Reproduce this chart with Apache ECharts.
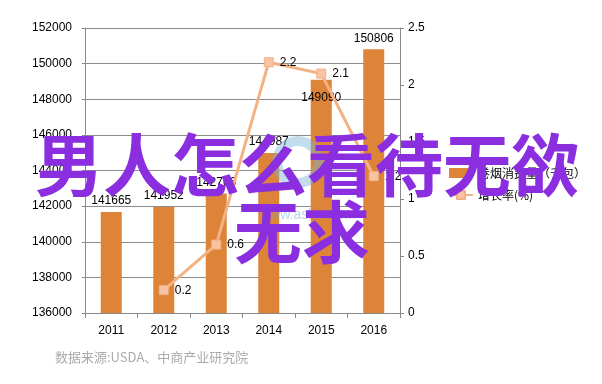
<!DOCTYPE html>
<html><head><meta charset="utf-8">
<script src="https://cdn.jsdelivr.net/npm/echarts@6/dist/echarts.min.js"></script>
<style>html,body{margin:0;padding:0;background:#fff}#c{width:602px;height:384px}</style>
</head><body><div id="c"></div>
<script>
const years = ['2011','2012','2013','2014','2015','2016'];
const consumption = [141665, 141952, 142706, 144987, 149090, 150806];
const growth = [null, 0.2, 0.6, 2.2, 2.1, 1.2];
const barName = '卷烟消费量（千包）';
const lineName = '增长率(%)';
const overlayLine1 = '男人怎么看待无欲';
const overlayLine2 = '无求';
const sourceText = '数据来源:USDA、中商产业研究院';

const chart = echarts.init(document.getElementById('c'));
const numFont = 'Liberation Sans';
const barData = consumption.map((v, i) => i === 4
  ? {value: v, label: {position: 'insideTop', distance: 12}}
  : v);
chart.setOption({
  animation: false,
  backgroundColor: '#fff',
  grid: {left: 85, right: 202, top: 28, bottom: 71},
  legend: {
    orient: 'vertical', left: 443, top: 162, itemWidth: 24, itemHeight: 10, itemGap: 10,
    textStyle: {fontFamily: 'Noto Sans CJK SC', fontSize: 12, color: '#000'},
    data: [{name: barName, icon: 'rect'}, {name: lineName}]
  },
  xAxis: {
    type: 'category', data: years,
    axisLine: {lineStyle: {color: '#888'}},
    axisTick: {show: true, alignWithLabel: false, length: 5, lineStyle: {color: '#888'}},
    axisLabel: {fontFamily: numFont, fontSize: 12, color: '#000', margin: 12}
  },
  yAxis: [{
    type: 'value', min: 136000, max: 152000, interval: 2000,
    axisLine: {show: true, lineStyle: {color: '#888'}},
    axisTick: {show: true, length: 3, lineStyle: {color: '#888'}},
    splitLine: {lineStyle: {color: '#8c8c8c'}},
    axisLabel: {fontFamily: numFont, fontSize: 12, color: '#000', margin: 13, formatter: v => String(v)}
  }, {
    type: 'value', min: 0, max: 2.5, interval: 0.5, position: 'right',
    axisLine: {show: true, lineStyle: {color: '#888'}},
    axisTick: {show: true, length: 4, lineStyle: {color: '#888'}},
    splitLine: {show: false},
    axisLabel: {fontFamily: numFont, fontSize: 12, color: '#000', margin: 8, formatter: v => String(v)}
  }],
  series: [{
    name: barName, type: 'bar', data: barData, barWidth: 21,
    itemStyle: {color: '#dd8438'},
    label: {show: true, position: 'top', distance: 5, fontFamily: numFont, fontSize: 12, color: '#000', formatter: p => String(p.value)}
  }, {
    name: lineName, type: 'line', yAxisIndex: 1, data: growth,
    symbol: 'rect', symbolSize: 9, connectNulls: false,
    lineStyle: {color: '#f4b183', width: 3},
    itemStyle: {color: '#f8c3a2', borderColor: '#f4b183', borderWidth: 1},
    label: {show: true, position: 'right', distance: 6, fontFamily: numFont, fontSize: 12, color: '#000'}
  }],
  graphic: [
    {type: 'ring', shape: {cx: 298, cy: 162, r: 26, r0: 16}, style: {fill: 'rgba(120,180,215,0.45)'}, z: 50},
    {type: 'text', left: 260, top: 208, style: {text: 'www.askci.com', fontSize: 14, fill: 'rgba(120,170,210,0.5)', fontFamily: numFont}, z: 50},
    {type: 'text', x: 307, y: 165, style: {text: overlayLine1, fontFamily: 'Noto Sans CJK SC', fontWeight: 'bold', fontSize: 68, fill: '#8a2ee0', align: 'center', verticalAlign: 'middle'}, z: 100},
    {type: 'text', x: 302, y: 232, style: {text: overlayLine2, fontFamily: 'Noto Sans CJK SC', fontWeight: 'bold', fontSize: 68, fill: '#8a2ee0', align: 'center', verticalAlign: 'middle'}, z: 100},
    {type: 'text', left: 55, top: 351, style: {text: sourceText, fontFamily: 'Noto Sans CJK SC', fontSize: 13, fill: '#aaa'}, z: 100}
  ]
});
</script></body></html>
